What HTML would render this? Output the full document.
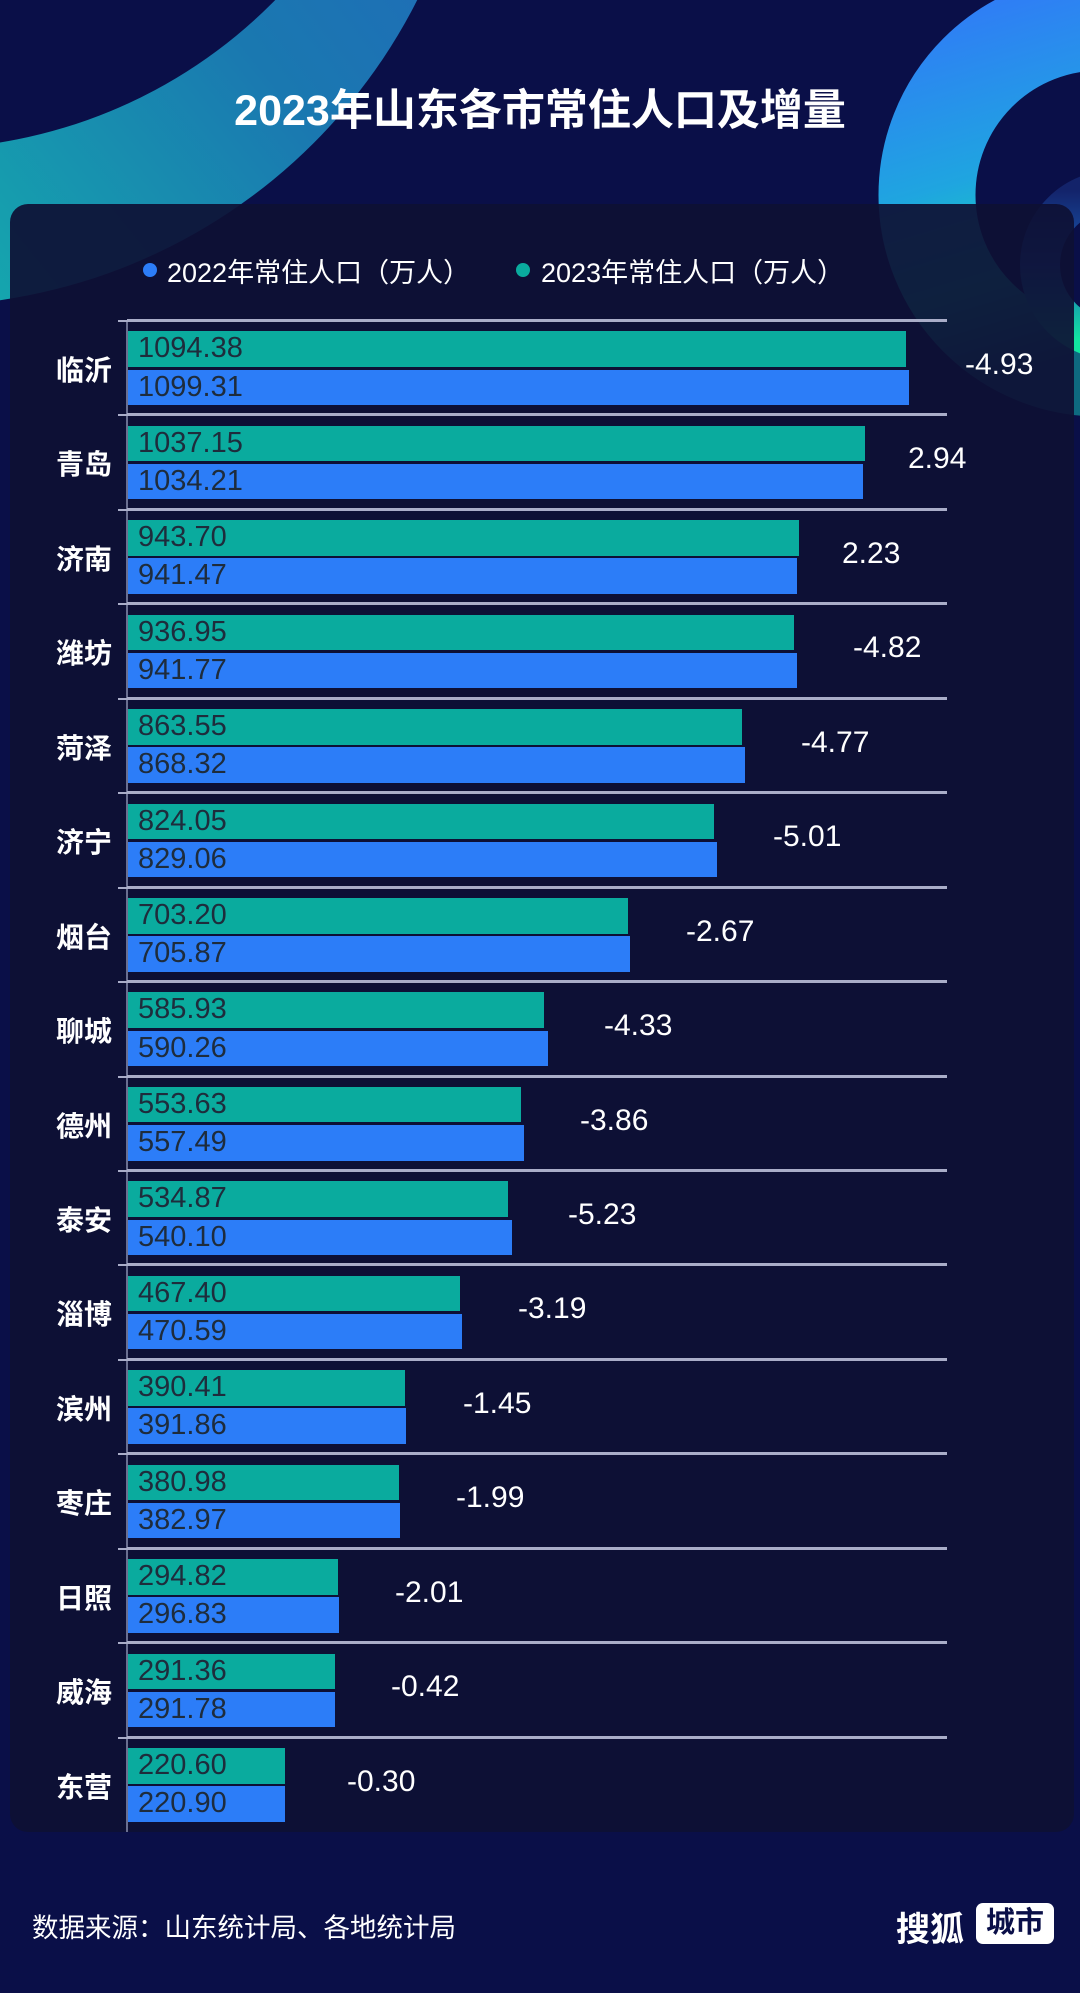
<!DOCTYPE html>
<html><head><meta charset="utf-8">
<style>
*{margin:0;padding:0;box-sizing:border-box}
body{width:1080px;height:1993px;background:#0a0f48;position:relative;overflow:hidden;font-family:"Liberation Sans","Noto Sans CJK SC",sans-serif}
.abs{position:absolute}
#panel{left:10px;top:204px;width:1064px;height:1628px;background:rgba(14,16,52,0.92);border-radius:18px}
.title{left:0;width:1080px;top:76px;text-align:center;color:#fff;font-size:43px;font-weight:bold}
.leg{top:251px;color:#fff;font-size:27px}
.dot{width:14px;height:14px;border-radius:50%;top:263px}
.row{position:absolute;left:0;width:1080px;height:94.44px}
.grid{position:absolute;left:127px;width:820px;top:-1px;height:3px;background:#a9adc8}
.tick{position:absolute;left:118px;width:9px;top:0;height:2px;background:#a9adc8}
.city{position:absolute;right:968px;top:29px;color:#fff;font-size:28px;font-weight:bold;white-space:nowrap}
.bt,.bb{position:absolute;left:128px;height:35.6px;color:#1e2c3c;font-size:29px;line-height:35.6px;padding-left:10px;white-space:nowrap}
.bt{top:11.4px;background:#0aab9e}
.bb{top:49.5px;background:#2c7df8}
.chg{position:absolute;top:28px;color:#fff;font-size:30px}
</style></head><body>
<svg class="abs" style="left:0;top:0" width="1080" height="1993">
<defs>
<linearGradient id="g1" x1="1" y1="0" x2="0" y2="0.8"><stop offset="0" stop-color="#2a55c8"/><stop offset="0.5" stop-color="#1a78b0"/><stop offset="1" stop-color="#10d4ac"/></linearGradient>
<linearGradient id="g2" x1="0" y1="0" x2="0.3" y2="1"><stop offset="0" stop-color="#2f7ef5"/><stop offset="0.45" stop-color="#1fa5e0"/><stop offset="0.75" stop-color="#14d6b4"/><stop offset="1" stop-color="#0e6a80"/></linearGradient>
<linearGradient id="g3" x1="0" y1="0" x2="0" y2="1"><stop offset="0" stop-color="#13236a"/><stop offset="0.5" stop-color="#1a5fb8"/><stop offset="1" stop-color="#12e6a0"/></linearGradient>
</defs>
<circle cx="-80" cy="-251" r="557" fill="url(#g1)"/>
<circle cx="-80" cy="-349" r="498" fill="#0a0f48"/>
<circle cx="1100" cy="195" r="173" fill="none" stroke="url(#g2)" stroke-width="97"/>
<circle cx="1115" cy="265" r="75" fill="none" stroke="url(#g3)" stroke-width="40"/>
</svg>
<div id="panel" class="abs"></div>
<div class="abs title">2023年山东各市常住人口及增量</div>
<div class="abs dot" style="left:143px;background:#2c7df8"></div>
<div class="abs leg" style="left:167px">2022年常住人口（万人）</div>
<div class="abs dot" style="left:516px;background:#0aab9e"></div>
<div class="abs leg" style="left:541px">2023年常住人口（万人）</div>
<div class="abs" style="left:126px;top:320px;width:2px;height:1512px;background:#6a6f90"></div>

<div class="row" style="top:320px"><div class="grid"></div><div class="tick"></div><div class="city">临沂</div><div class="bt" style="width:778px">1094.38</div><div class="bb" style="width:781px">1099.31</div><div class="chg" style="left:965px">-4.93</div></div>
<div class="row" style="top:414.4px"><div class="grid"></div><div class="tick"></div><div class="city">青岛</div><div class="bt" style="width:737px">1037.15</div><div class="bb" style="width:735px">1034.21</div><div class="chg" style="left:908px">2.94</div></div>
<div class="row" style="top:508.9px"><div class="grid"></div><div class="tick"></div><div class="city">济南</div><div class="bt" style="width:671px">943.70</div><div class="bb" style="width:669px">941.47</div><div class="chg" style="left:842px">2.23</div></div>
<div class="row" style="top:603.3px"><div class="grid"></div><div class="tick"></div><div class="city">潍坊</div><div class="bt" style="width:666px">936.95</div><div class="bb" style="width:669px">941.77</div><div class="chg" style="left:853px">-4.82</div></div>
<div class="row" style="top:697.8px"><div class="grid"></div><div class="tick"></div><div class="city">菏泽</div><div class="bt" style="width:614px">863.55</div><div class="bb" style="width:617px">868.32</div><div class="chg" style="left:801px">-4.77</div></div>
<div class="row" style="top:792.2px"><div class="grid"></div><div class="tick"></div><div class="city">济宁</div><div class="bt" style="width:586px">824.05</div><div class="bb" style="width:589px">829.06</div><div class="chg" style="left:773px">-5.01</div></div>
<div class="row" style="top:886.6px"><div class="grid"></div><div class="tick"></div><div class="city">烟台</div><div class="bt" style="width:500px">703.20</div><div class="bb" style="width:502px">705.87</div><div class="chg" style="left:686px">-2.67</div></div>
<div class="row" style="top:981.1px"><div class="grid"></div><div class="tick"></div><div class="city">聊城</div><div class="bt" style="width:416px">585.93</div><div class="bb" style="width:420px">590.26</div><div class="chg" style="left:604px">-4.33</div></div>
<div class="row" style="top:1075.5px"><div class="grid"></div><div class="tick"></div><div class="city">德州</div><div class="bt" style="width:393px">553.63</div><div class="bb" style="width:396px">557.49</div><div class="chg" style="left:580px">-3.86</div></div>
<div class="row" style="top:1170px"><div class="grid"></div><div class="tick"></div><div class="city">泰安</div><div class="bt" style="width:380px">534.87</div><div class="bb" style="width:384px">540.10</div><div class="chg" style="left:568px">-5.23</div></div>
<div class="row" style="top:1264.4px"><div class="grid"></div><div class="tick"></div><div class="city">淄博</div><div class="bt" style="width:332px">467.40</div><div class="bb" style="width:334px">470.59</div><div class="chg" style="left:518px">-3.19</div></div>
<div class="row" style="top:1358.8px"><div class="grid"></div><div class="tick"></div><div class="city">滨州</div><div class="bt" style="width:277px">390.41</div><div class="bb" style="width:278px">391.86</div><div class="chg" style="left:463px">-1.45</div></div>
<div class="row" style="top:1453.3px"><div class="grid"></div><div class="tick"></div><div class="city">枣庄</div><div class="bt" style="width:271px">380.98</div><div class="bb" style="width:272px">382.97</div><div class="chg" style="left:456px">-1.99</div></div>
<div class="row" style="top:1547.7px"><div class="grid"></div><div class="tick"></div><div class="city">日照</div><div class="bt" style="width:210px">294.82</div><div class="bb" style="width:211px">296.83</div><div class="chg" style="left:395px">-2.01</div></div>
<div class="row" style="top:1642.2px"><div class="grid"></div><div class="tick"></div><div class="city">威海</div><div class="bt" style="width:207px">291.36</div><div class="bb" style="width:207px">291.78</div><div class="chg" style="left:391px">-0.42</div></div>
<div class="row" style="top:1736.6px"><div class="grid"></div><div class="tick"></div><div class="city">东营</div><div class="bt" style="width:157px">220.60</div><div class="bb" style="width:157px">220.90</div><div class="chg" style="left:347px">-0.30</div></div>

<div class="abs" style="left:32px;top:1906px;color:#fff;font-size:26.5px">数据来源：山东统计局、各地统计局</div>
<div class="abs" style="left:896px;top:1902px;color:#fff;font-size:34px;font-weight:bold">搜狐</div>
<div class="abs" style="left:976px;top:1903px;width:78px;height:41px;background:#fff;border-radius:7px;color:#0a0f48;font-size:29px;font-weight:bold;text-align:center;line-height:41px">城市</div>
</body></html>
